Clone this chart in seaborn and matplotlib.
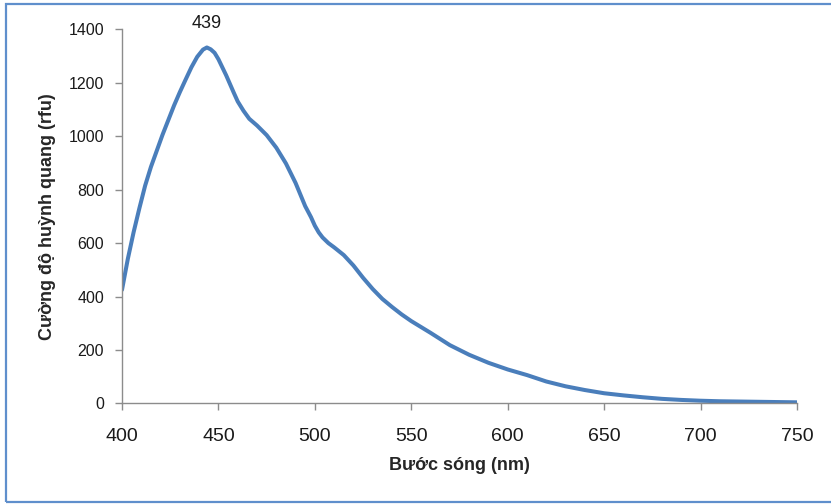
import matplotlib
matplotlib.use("Agg")
import matplotlib.pyplot as plt
import seaborn as sns
import pandas as pd
from matplotlib.patches import Rectangle

# values
wavelength = [400, 403, 406, 409, 412, 415, 418, 421, 424, 427, 430, 433, 436,
              439, 442, 444, 446, 448, 450, 452, 454, 456, 458, 460, 463, 466,
              470, 475, 480, 485, 490, 495, 498, 500, 502, 504, 507, 510, 515,
              520, 525, 530, 535, 540, 545, 550, 555, 560, 570, 580, 590, 600,
              610, 620, 630, 640, 650, 660, 670, 680, 690, 700, 710, 720, 730,
              740, 750]
intensity = [425, 540, 640, 730, 815, 885, 945, 1005, 1060, 1115, 1165, 1212, 1258,
             1297, 1324, 1332, 1325, 1312, 1288, 1258, 1228, 1195, 1162, 1130, 1095, 1065,
             1040, 1004, 957, 898, 825, 738, 697, 665, 640, 621, 600, 584, 555,
             516, 470, 428, 391, 361, 333, 308, 286, 264, 218, 182, 152, 127,
             106, 82, 64, 50, 38, 30, 23, 17, 13, 10, 8, 7, 6,
             5, 4]
peak_label = "439"
x_ticks = [400, 450, 500, 550, 600, 650, 700, 750]
y_ticks = [0, 200, 400, 600, 800, 1000, 1200, 1400]

sns.set_theme(style="white")
plt.rcParams["font.family"] = ["Liberation Sans", "DejaVu Sans"]

df = pd.DataFrame({"wl": wavelength, "rfu": intensity})

fig = plt.figure(figsize=(8.31, 5.04), dpi=100)
ax = fig.add_axes([122 / 831, 1 - 403.4 / 504, 675 / 831, (403.4 - 29.3) / 504])

sns.lineplot(data=df, x="wl", y="rfu", ax=ax, color="#4a7ebb", linewidth=2.9,
             solid_capstyle="round", solid_joinstyle="round")

ax.set_xlim(400, 750)
ax.set_ylim(0, 1400)
ax.set_xticks(x_ticks)
ax.set_yticks(y_ticks)

for side in ["top", "right"]:
    ax.spines[side].set_visible(False)
for side in ["left", "bottom"]:
    ax.spines[side].set_color("#8c8c8c")
    ax.spines[side].set_linewidth(1.0)

ax.tick_params(axis="x", direction="out", length=5, width=1.0, color="#8c8c8c",
               labelsize=14, pad=12.5, labelcolor="#1a1a1a", bottom=True)
ax.tick_params(axis="y", direction="out", length=5, width=1.0, color="#8c8c8c",
               labelsize=11.5, pad=8, labelcolor="#1a1a1a", left=True)

ax.set_xlabel("Bước sóng (nm)", fontsize=13, fontweight="bold", labelpad=9)
ax.set_ylabel("Cường độ huỳnh quang (rfu)", fontsize=13, fontweight="bold", labelpad=9)

# peak label
i_max = intensity.index(max(intensity))
ax.annotate(peak_label, (wavelength[i_max], intensity[i_max]), xytext=(0, 11),
            textcoords="offset points", ha="center", va="bottom", fontsize=13,
            color="#1a1a1a", annotation_clip=False)

# chart frame (Excel-style outline, right edge cut off)
fig.patches.append(Rectangle((6 / 831, 2 / 504), 1.0, 1 - 6 / 504,
                             transform=fig.transFigure, fill=False,
                             edgecolor="#5f8fcc", linewidth=1.6))

fig.savefig("out.png", dpi=100)
